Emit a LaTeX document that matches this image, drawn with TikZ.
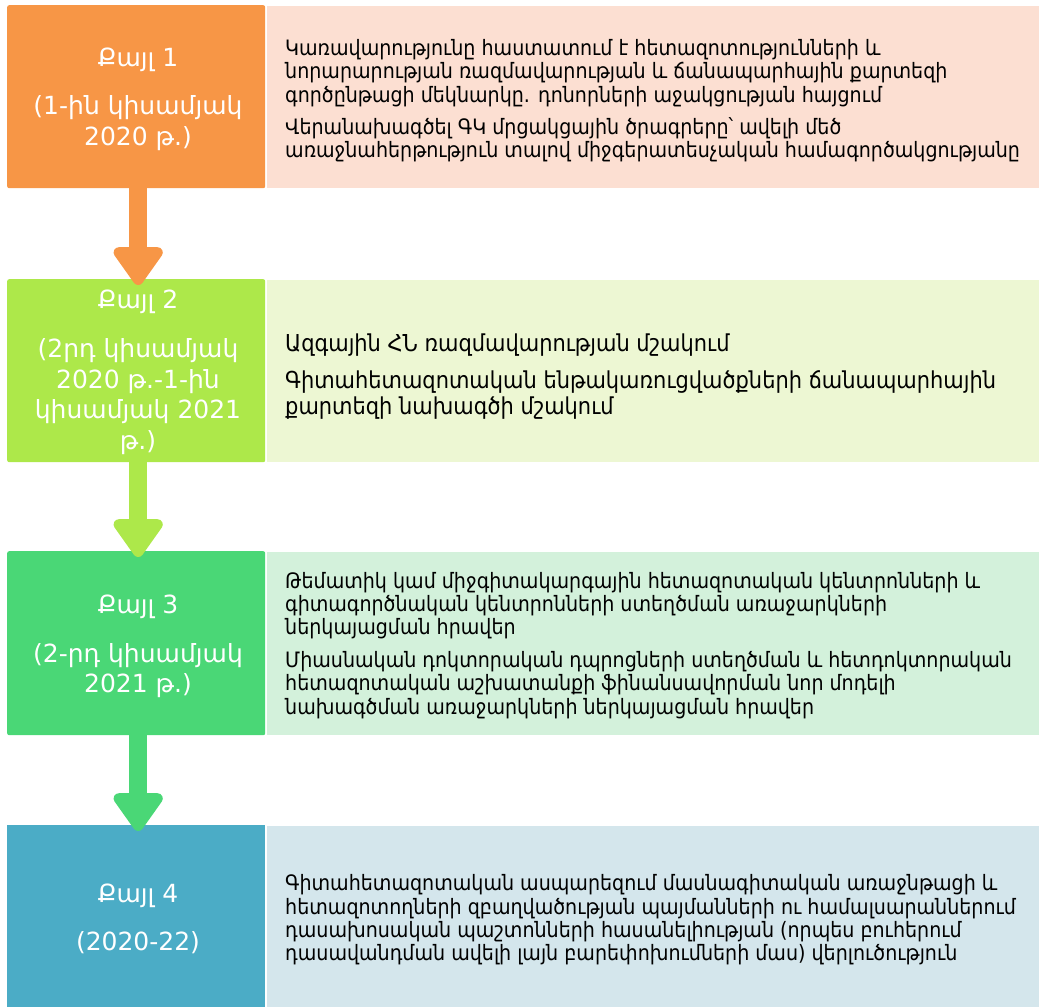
\documentclass[tikz,border=0pt]{standalone}
\usepackage{fontspec}
\setmainfont{DejaVu Sans}
\newfontfamily\armcond{DejaVu Sans Condensed}
\usetikzlibrary{arrows.meta,calc}

\definecolor{orangeA}{HTML}{F79646}
\definecolor{orangeB}{HTML}{FCDFD2}
\definecolor{limeA}{HTML}{ADE84A}
\definecolor{limeB}{HTML}{EDF7D3}
\definecolor{greenA}{HTML}{4AD776}
\definecolor{greenB}{HTML}{D3F1DB}
\definecolor{blueA}{HTML}{4BACC6}
\definecolor{blueB}{HTML}{D4E6EC}

\tikzset{
  stage/.style={rounded corners=2pt, minimum width=258pt, text=white,
    align=center, inner sep=0pt, font=\fontsize{25}{30.5}\selectfont},
  detail/.style={draw=white, line width=1pt, minimum width=773pt,
    anchor=north west, inner sep=0pt},
  % panel texts are placed by the baseline of their last line
  body/.style={anchor=base west, align=left, inner sep=0pt, text=black,
    font=\armcond\fontsize{21.2}{23.2}\selectfont},
  flow/.style={line width=18pt,
    -{Triangle[width=56pt,length=42pt,round]}, shorten >=-6pt}
}

\begin{document}
\begin{tikzpicture}[x=1pt,y=-1pt]
\useasboundingbox (0,0) rectangle (1043,1006);

% ---- stage boxes ----
\node[stage, fill=orangeA, minimum height=183pt, anchor=north west] (s1) at (7,5) {};
\node[stage, fill=limeA,   minimum height=183pt, anchor=north west] (s2) at (7,279) {};
\node[stage, fill=greenA,  minimum height=184pt, anchor=north west] (s3) at (7,551) {};
\node[stage, fill=blueA,   minimum height=186pt, anchor=north west, rounded corners=0pt] (s4) at (7,825) {};

% ---- detail panels ----
\node[detail, fill=orangeB, minimum height=183pt] (d1) at (266,5) {};
\node[detail, fill=limeB,   minimum height=183pt] (d2) at (266,279) {};
\node[detail, fill=greenB,  minimum height=184pt] (d3) at (266,551) {};
\node[detail, fill=blueB,   minimum height=186pt] (d4) at (266,825) {};

% ---- stage labels ----
\node[stage] (l1) at (138,99) {Քայլ 1\\[18pt](1-ին կիսամյակ\\2020 թ.)};
\node[stage] (l2) at (138,372) {Քայլ 2\\[19pt](2րդ կիսամյակ\\2020 թ.-1-ին\\կիսամյակ 2021\\թ.)};
\node[stage] (l3) at (138,646.5) {Քայլ 3\\[18pt](2-րդ կիսամյակ\\2021 թ.)};
\node[stage] (l4) at (138,919) {Քայլ 4\\[17pt](2020-22)};

% ---- panel texts ----
\node[body] (t1) at (285,157.5) {Կառավարությունը հաստատում է հետազոտությունների և\\
նորարարության ռազմավարության և ճանապարհային քարտեզի\\
գործընթացի մեկնարկը. դոնորների աջակցության հայցում\\[9pt]
Վերանախագծել ԳԿ մրցակցային ծրագրերը՝ ավելի մեծ\\
առաջնահերթություն տալով միջգերատեսչական համագործակցությանը};

\node[body, font=\armcond\fontsize{23.3}{26}\selectfont] (t2) at (285,414) {Ազգային ՀՆ ռազմավարության մշակում\\[11pt]
Գիտահետազոտական ենթակառուցվածքների ճանապարհային\\
քարտեզի նախագծի մշակում};

\node[body] (t3) at (285,714) {Թեմատիկ կամ միջգիտակարգային հետազոտական կենտրոնների և\\
գիտագործնական կենտրոնների ստեղծման առաջարկների\\
ներկայացման հրավեր\\[10pt]
Միասնական դոկտորական դպրոցների ստեղծման և հետդոկտորական\\
հետազոտական աշխատանքի ֆինանսավորման նոր մոդելի\\
նախագծման առաջարկների ներկայացման հրավեր};

\node[body] (t4) at (285,960.5) {Գիտահետազոտական ասպարեզում մասնագիտական առաջնթացի և\\
հետազոտողների զբաղվածության պայմանների ու համալսարաններում\\
դասախոսական պաշտոնների հասանելիության (որպես բուհերում\\
դասավանդման ավելի լայն բարեփոխումների մաս) վերլուծություն};

% ---- block arrows between stages ----
\draw[flow, orangeA] ($(s1.south)+(2,0)$) -- ($(s2.north)+(2,0)$);
\draw[flow, limeA]   ($(s2.south)+(2,0)$) -- ($(s3.north)+(2,0)$);
\draw[flow, greenA]  ($(s3.south)+(2,0)$) -- ($(s4.north)+(2,0)$);
\end{tikzpicture}
\end{document}
